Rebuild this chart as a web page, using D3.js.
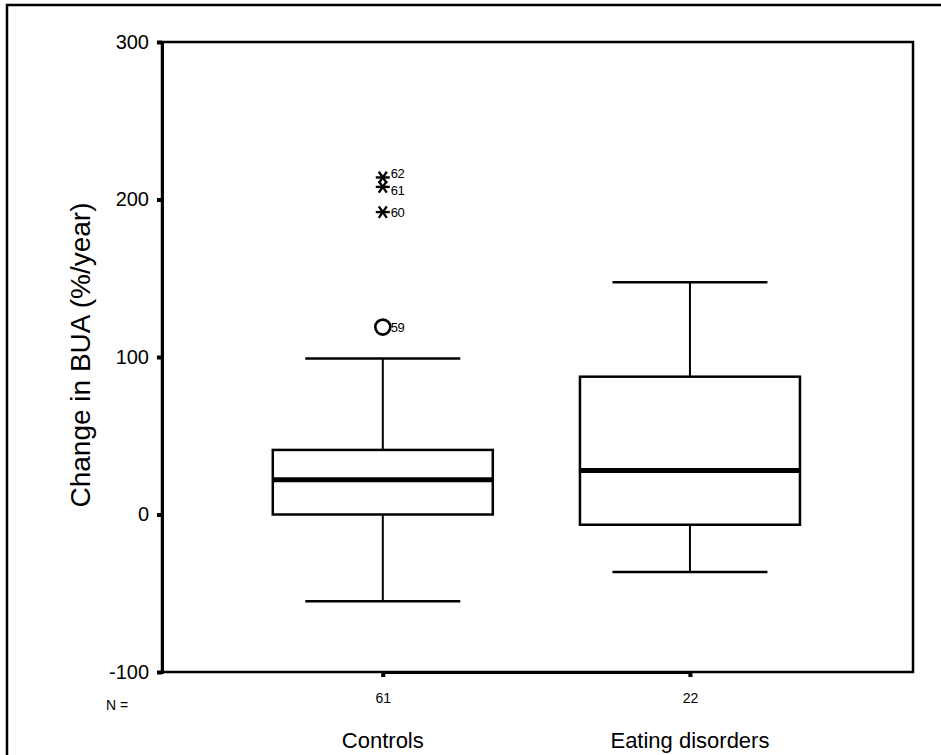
<!DOCTYPE html>
<html>
<head>
<meta charset="utf-8">
<script src="https://cdn.jsdelivr.net/npm/d3@7"></script>
<style>
  html, body { margin: 0; padding: 0; background: #fff; }
  svg { display: block; }
  text { font-family: "Liberation Sans", Arial, Helvetica, sans-serif; fill: #000; }
</style>
</head>
<body>
<svg id="chart" width="941" height="755"></svg>
<script>
// ---- data ----
const categories = ["Controls", "Eating disorders"];
const nValues = [61, 22];
const whiskerLow = [-55, -36.5];
const q1 = [0, -6.5];
const median = [22, 28];
const q3 = [41, 87.5];
const whiskerHigh = [99, 147.5];
const outlierGroup = ["Controls", "Controls", "Controls", "Controls"];
const outlierIds = ["59", "60", "61", "62"];
const outlierValues = [119, 192, 208, 214];
const outlierKinds = ["circle", "extreme", "extreme", "extreme"];
const yTicks = [-100, 0, 100, 200, 300];
const yLabel = "Change in BUA (%/year)";

// ---- layout ----
const W = 941, H = 755;
const plot = { left: 162, right: 913, top: 42, bottom: 672 };
const svg = d3.select("#chart");

const y = d3.scaleLinear().domain([-100, 300]).range([plot.bottom, plot.top]);
const pw = plot.right - plot.left;
const x = d3.scalePoint().domain(categories)
  .range([plot.left + pw * 0.294, plot.left + pw * 0.703]);
const boxW = 220, capW = 155;

// outer frame (left + top only)
svg.append("path")
  .attr("d", `M7,${H} L7,5 L${W},5`)
  .attr("fill", "none").attr("stroke", "#000").attr("stroke-width", 2.5);

// plot frame
svg.append("rect")
  .attr("x", plot.left).attr("y", plot.top)
  .attr("width", pw).attr("height", plot.bottom - plot.top)
  .attr("fill", "none").attr("stroke", "#000").attr("stroke-width", 2.5);

// y axis via d3.axisLeft
const yAxis = svg.append("g")
  .attr("transform", `translate(${plot.left},0)`)
  .call(d3.axisLeft(y).tickValues(yTicks).tickSize(5).tickPadding(8).tickFormat(d => String(d)));
yAxis.select(".domain").attr("stroke", "#000").attr("stroke-width", 3);
yAxis.selectAll(".tick line").attr("stroke", "#000").attr("stroke-width", 4);
yAxis.selectAll(".tick text").attr("font-size", 20).attr("font-family", "Liberation Sans, Arial, sans-serif");

// x axis via d3.axisBottom (tick marks, N labels)
const xAxis = svg.append("g")
  .attr("transform", `translate(0,${plot.bottom})`)
  .call(d3.axisBottom(x).tickSize(5).tickPadding(16)
    .tickFormat(d => nValues[categories.indexOf(d)]));
xAxis.select(".domain").attr("stroke", "#000").attr("stroke-width", 3);
xAxis.selectAll(".tick line").attr("stroke", "#000").attr("stroke-width", 4);
xAxis.selectAll(".tick text").attr("font-size", 14).attr("font-family", "Liberation Sans, Arial, sans-serif");

svg.append("text").attr("x", 106).attr("y", plot.bottom + 38)
  .attr("font-size", 14).text("N =");

// category labels
svg.selectAll(".cat").data(categories).join("text")
  .attr("class", "cat")
  .attr("x", d => x(d)).attr("y", 748)
  .attr("text-anchor", "middle").attr("font-size", 22)
  .text(d => d);

// y label
svg.append("text")
  .attr("transform", `translate(90,355) rotate(-90)`)
  .attr("text-anchor", "middle").attr("font-size", 28)
  .text(yLabel);

// boxes
const g = svg.append("g");
categories.forEach((c, i) => {
  const cx = x(c);
  // whiskers
  g.append("line").attr("x1", cx).attr("x2", cx).attr("y1", y(q3[i])).attr("y2", y(whiskerHigh[i]))
    .attr("stroke", "#000").attr("stroke-width", 2);
  g.append("line").attr("x1", cx).attr("x2", cx).attr("y1", y(q1[i])).attr("y2", y(whiskerLow[i]))
    .attr("stroke", "#000").attr("stroke-width", 2);
  // caps
  [whiskerHigh[i], whiskerLow[i]].forEach(v => {
    g.append("line").attr("x1", cx - capW / 2).attr("x2", cx + capW / 2).attr("y1", y(v)).attr("y2", y(v))
      .attr("stroke", "#000").attr("stroke-width", 2.5);
  });
  // box
  g.append("rect").attr("x", cx - boxW / 2).attr("y", y(q3[i]))
    .attr("width", boxW).attr("height", y(q1[i]) - y(q3[i]))
    .attr("fill", "#fff").attr("stroke", "#000").attr("stroke-width", 2.5);
  // median
  g.append("line").attr("x1", cx - boxW / 2).attr("x2", cx + boxW / 2).attr("y1", y(median[i])).attr("y2", y(median[i]))
    .attr("stroke", "#000").attr("stroke-width", 5);
});

// outliers
outlierValues.forEach((v, k) => {
  const cx = x(outlierGroup[k]);
  const cy = y(v);
  if (outlierKinds[k] === "circle") {
    g.append("circle").attr("cx", cx).attr("cy", cy).attr("r", 7.5)
      .attr("fill", "#fff").attr("stroke", "#000").attr("stroke-width", 2.6);
  } else {
    const r = 7;
    [0, 55, -55].forEach(a => {
      const rad = a * Math.PI / 180;
      g.append("line")
        .attr("x1", cx - r * Math.cos(rad)).attr("y1", cy - r * Math.sin(rad))
        .attr("x2", cx + r * Math.cos(rad)).attr("y2", cy + r * Math.sin(rad))
        .attr("stroke", "#000").attr("stroke-width", 2.4);
    });
  }
  const dy = outlierIds[k] === "62" ? 1 : (outlierIds[k] === "61" ? 8 : 5);
  g.append("text").attr("x", cx + 8).attr("y", cy + dy)
    .attr("font-size", 13).attr("letter-spacing", -0.5).text(outlierIds[k]);
});
</script>
</body>
</html>
